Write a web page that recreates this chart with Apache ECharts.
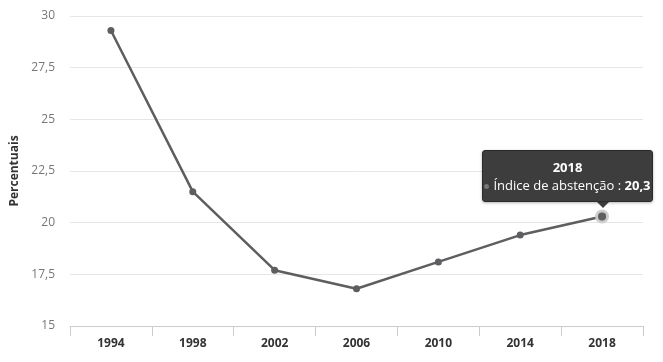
<!DOCTYPE html>
<html><head><meta charset="utf-8">
<script src="https://cdn.jsdelivr.net/npm/echarts@6/dist/echarts.min.js"></script>
<style>html,body{margin:0;padding:0;background:#fff}#c{width:663px;height:362px}</style>
</head><body><div id="c"></div>
<script>
var years = ['1994','1998','2002','2006','2010','2014','2018'];
var values = [29.3, 21.5, 17.7, 16.8, 18.1, 19.4, 20.3];
var seriesName = 'Índice de abstenção';
var yTicks = [15, 17.5, 20, 22.5, 25, 27.5, 30];

var chart = echarts.init(document.getElementById('c'));
var fmt = function(v){ return String(v).replace('.', ','); };
var data = values.map(function(v, i){
  if (i === values.length - 1) {
    return {value: v, symbolSize: 11, itemStyle: {color: '#5f5d60', borderColor: 'rgba(205,205,205,0.95)', borderWidth: 3}};
  }
  return v;
});
var TIP_W = 171;
chart.setOption({
  animation: false,
  textStyle: {fontFamily: '"Open Sans", sans-serif'},
  grid: {left: 70, right: 20, top: 16, bottom: 36},
  tooltip: {
    trigger: 'item',
    position: function(point){
      return [point[0] - 120, point[1] - 66];
    },
    backgroundColor: 'rgba(45,45,45,0.92)',
    borderColor: '#2a2a2a',
    borderWidth: 1,
    padding: [7, 0],
    extraCssText: 'width:' + TIP_W + 'px;box-sizing:border-box;box-shadow:0 1px 3px rgba(0,0,0,0.3);border-radius:3px;overflow:visible;',
    textStyle: {color: '#fff', fontSize: 13, fontFamily: '"Open Sans", sans-serif'},
    formatter: function(p){
      return '<div style="text-align:center;font-weight:bold;line-height:18px">' + years[p.dataIndex] + '</div>' +
        '<div style="text-align:center;line-height:18px;white-space:nowrap"><span style="display:inline-block;width:5px;height:5px;border-radius:50%;background:#777;margin-right:4px;vertical-align:middle"></span>' +
        p.seriesName + ' : <b>' + fmt(p.value) + '</b></div>' +
        '<div style="position:absolute;left:113px;bottom:-7px;width:0;height:0;border-left:7px solid transparent;border-right:7px solid transparent;border-top:7px solid rgba(45,45,45,0.92)"></div>';
    }
  },
  xAxis: {
    type: 'category',
    data: years,
    boundaryGap: true,
    axisLine: {lineStyle: {color: '#ccc'}},
    axisTick: {show: true, length: 10, lineStyle: {color: '#ccc'}},
    axisLabel: {color: '#333', fontWeight: 'bold', fontSize: 12, margin: 12}
  },
  yAxis: {
    type: 'value',
    min: 15, max: 30, interval: 2.5,
    name: 'Percentuais',
    nameLocation: 'middle',
    nameGap: 42,
    nameTextStyle: {color: '#333', fontWeight: 'bold', fontSize: 12},
    axisLine: {show: false},
    axisTick: {show: false},
    splitLine: {lineStyle: {color: '#e6e6e6'}},
    axisLabel: {color: '#777', fontSize: 12, margin: 15, formatter: function(v){ return fmt(v); }}
  },
  series: [{
    name: seriesName,
    type: 'line',
    data: data,
    symbol: 'circle',
    symbolSize: 7,
    lineStyle: {color: '#5f5d60', width: 2.5},
    itemStyle: {color: '#5f5d60'}
  }]
});
setTimeout(function(){
  chart.dispatchAction({type: 'showTip', seriesIndex: 0, dataIndex: values.length - 1});
}, 50);
</script></body></html>
